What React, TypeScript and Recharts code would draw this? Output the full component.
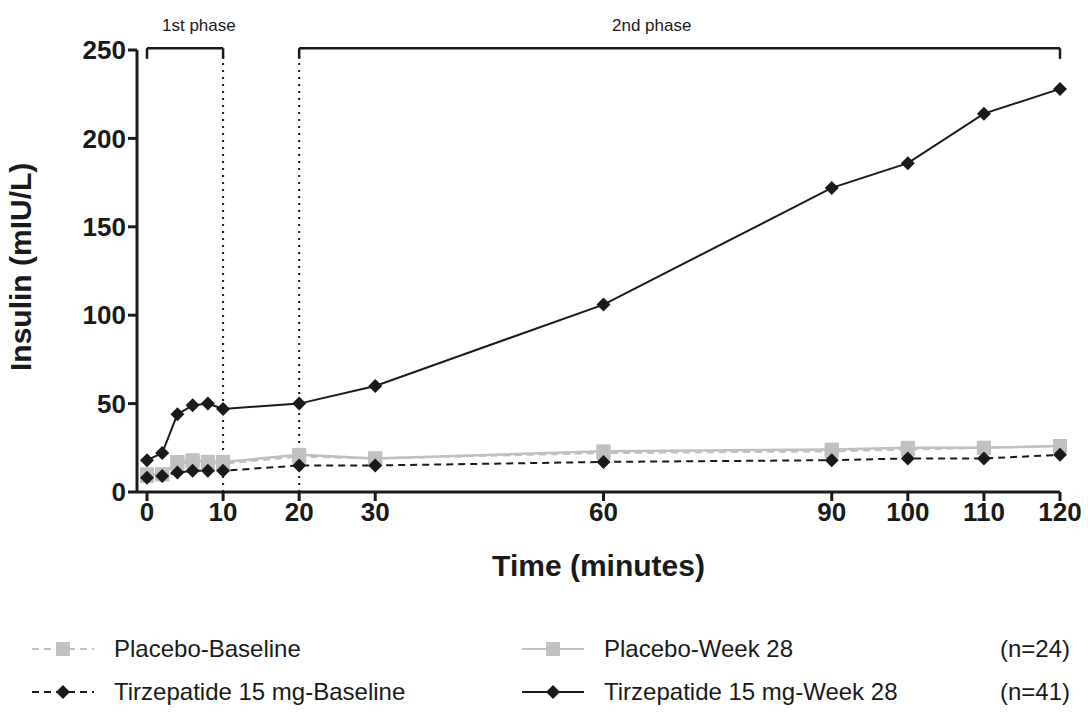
import { LineChart, Line, XAxis, YAxis, ReferenceLine } from 'recharts';

const times = [0, 2, 4, 6, 8, 10, 20, 30, 60, 90, 100, 110, 120];
const placeboBaseline = [9, 10, 16, 17, 16, 16, 20, 19, 22, 23, 24, 25, 26];
const placeboWeek28 = [10, 10, 17, 18, 17, 17, 21, 19, 23, 24, 25, 25, 26];
const tirzBaseline = [8, 9, 11, 12, 12, 12, 15, 15, 17, 18, 19, 19, 21];
const tirzWeek28 = [18, 22, 44, 49, 50, 47, 50, 60, 106, 172, 186, 214, 228];
const xTicks = [0, 10, 20, 30, 60, 90, 100, 110, 120];
const yTicks = [0, 50, 100, 150, 200, 250];

const data = times.map((t, i) => ({
  t,
  pb: placeboBaseline[i],
  pw: placeboWeek28[i],
  tb: tirzBaseline[i],
  tw: tirzWeek28[i],
}));

const font = 'Arial, "Liberation Sans", sans-serif';
const grey = '#c0c0c0';
const dark = '#1a1a1a';

const Square = (p: any) => <rect x={p.cx - 7} y={p.cy - 7} width={14} height={14} fill={grey} />;
const Diamond = (p: any) => (
  <path d={`M${p.cx},${p.cy - 7}L${p.cx + 7},${p.cy}L${p.cx},${p.cy + 7}L${p.cx - 7},${p.cy}Z`} fill={dark} />
);

const seg = (x1: number, y1: number, x2: number, y2: number, k: string) => (
  <ReferenceLine key={k} segment={[{ x: x1, y: y1 }, { x: x2, y: y2 }]} stroke={dark} strokeWidth={2.5} ifOverflow="visible" />
);

function LegendIcon({ color, dash, square }: { color: string; dash: boolean; square: boolean }) {
  return (
    <svg width={66} height={20} style={{ marginRight: 18 }}>
      <line x1={2} y1={10} x2={64} y2={10} stroke={color} strokeWidth={2} strokeDasharray={dash ? '7 5' : undefined} />
      {square ? <rect x={26} y={3} width={14} height={14} fill={color} /> : <path d="M33,3L40,10L33,17L26,10Z" fill={color} />}
    </svg>
  );
}

const item = (left: number, top: number, text: string, color: string, dash: boolean, square: boolean) => (
  <div style={{ position: 'absolute', left, top, display: 'flex', alignItems: 'center', fontSize: 24, color: dark }}>
    <LegendIcon color={color} dash={dash} square={square} />
    {text}
  </div>
);

export default function App() {
  return (
    <div style={{ position: 'absolute', left: 0, top: 0, width: 1088, height: 715, background: '#fff', fontFamily: font }}>
      <LineChart width={1088} height={592} data={data} margin={{ top: 50, right: 28, left: 0, bottom: 0 }}>
        <XAxis
          dataKey="t"
          type="number"
          domain={[0, 120]}
          ticks={xTicks}
          padding={{ left: 10, right: 0 }}
          axisLine={{ stroke: dark, strokeWidth: 3 }}
          tickLine={{ stroke: dark, strokeWidth: 3 }}
          tickSize={9}
          tick={{ fill: dark, fontSize: 26, fontWeight: 'bold' }}
          height={100}
          label={{ value: 'Time (minutes)', position: 'insideBottom', offset: 16, fill: dark, fontSize: 30, fontWeight: 'bold' }}
        />
        <YAxis
          domain={[0, 250]}
          ticks={yTicks}
          width={137}
          axisLine={{ stroke: dark, strokeWidth: 3 }}
          tickLine={{ stroke: dark, strokeWidth: 3 }}
          tickSize={9}
          tick={{ fill: dark, fontSize: 26, fontWeight: 'bold' }}
          label={{ value: 'Insulin (mIU/L)', angle: -90, position: 'insideLeft', offset: 20, dy: 100, fill: dark, fontSize: 30, fontWeight: 'bold' }}
        />
        <ReferenceLine stroke={dark} strokeWidth={2} strokeDasharray="2 5" segment={[{ x: 10, y: 0 }, { x: 10, y: 251 }]} ifOverflow="visible" />
        <ReferenceLine stroke={dark} strokeWidth={2} strokeDasharray="2 5" segment={[{ x: 20, y: 0 }, { x: 20, y: 251 }]} ifOverflow="visible" />
        {seg(0, 251, 10, 251, 'a')}
        {seg(0, 251, 0, 245, 'b')}
        {seg(10, 251, 10, 245, 'c')}
        {seg(20, 251, 120, 251, 'd')}
        {seg(20, 251, 20, 245, 'e')}
        {seg(120, 251, 120, 245, 'f')}
        <Line dataKey="pb" stroke={grey} strokeWidth={2} strokeDasharray="7 5" dot={<Square />} isAnimationActive={false} />
        <Line dataKey="pw" stroke={grey} strokeWidth={2.5} dot={<Square />} isAnimationActive={false} />
        <Line dataKey="tb" stroke={dark} strokeWidth={2} strokeDasharray="7 5" dot={<Diamond />} isAnimationActive={false} />
        <Line dataKey="tw" stroke={dark} strokeWidth={2} dot={<Diamond />} isAnimationActive={false} />
      </LineChart>
      <div style={{ position: 'absolute', left: 162, top: 16, fontSize: 17, color: dark }}>1st phase</div>
      <div style={{ position: 'absolute', left: 612, top: 16, fontSize: 17, color: dark }}>2nd phase</div>
      {item(30, 635, 'Placebo-Baseline', grey, true, true)}
      {item(520, 635, 'Placebo-Week 28', grey, false, true)}
      <div style={{ position: 'absolute', left: 1000, top: 635, fontSize: 24, color: dark }}>(n=24)</div>
      {item(30, 678, 'Tirzepatide 15 mg-Baseline', dark, true, false)}
      {item(520, 678, 'Tirzepatide 15 mg-Week 28', dark, false, false)}
      <div style={{ position: 'absolute', left: 1000, top: 678, fontSize: 24, color: dark }}>(n=41)</div>
    </div>
  );
}
